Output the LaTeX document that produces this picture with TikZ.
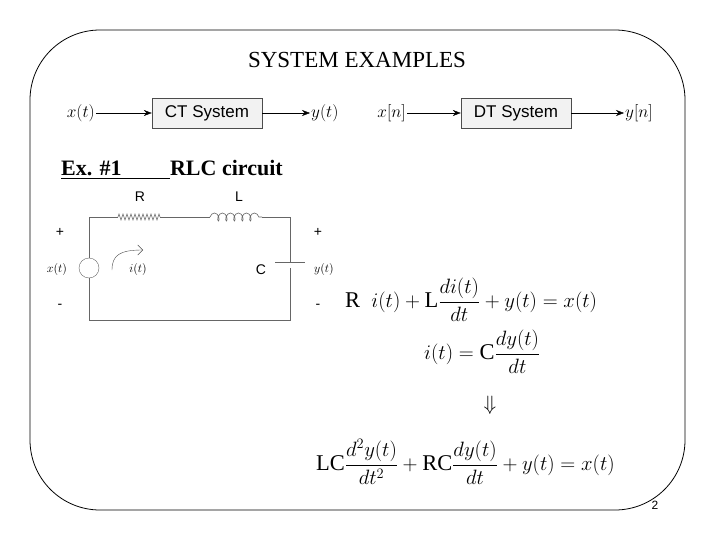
\documentclass[tikz,border=0pt]{standalone}
\usepackage{amsmath}
\usepackage{fontspec}
\setmainfont{Liberation Serif}
\newfontfamily\sansf{Liberation Sans}
\usetikzlibrary{decorations.pathmorphing,arrows.meta}
\begin{document}
\begin{tikzpicture}[x=1pt,y=-1pt,
 blk/.style={draw=black!70,fill=black!5,font=\sansf\fontsize{17}{19}\selectfont,minimum height=30,minimum width=110,inner sep=4},
 sig/.style={font=\fontsize{19}{21}\selectfont,inner sep=1},
 sarr/.style={-{Stealth[length=8,width=6]},thin},
 wire/.style={draw=black!60,line width=0.6},
 lab/.style={font=\sansf\fontsize{14}{16}\selectfont},
 eq/.style={font=\fontsize{22.5}{27}\selectfont,inner sep=0}]
\useasboundingbox (0,0) rectangle (720,540);
\draw[line width=0.8,rounded corners=70] (30,30) rectangle (685,510);
\node[font=\fontsize{23}{25}\selectfont] (title) at (357,60) {SYSTEM EXAMPLES};
% CT
\node[sig,anchor=east] (xt) at (96,113) {$x(t)$};
\node[blk] (ct) at (207,113) {CT System};
\node[sig,anchor=west] (yt) at (310,113) {$y(t)$};
\draw[sarr] (xt) -- (ct);
\draw[sarr] (ct) -- (yt);
% DT
\node[sig,anchor=east] (xn) at (407,113) {$x[n]$};
\node[blk] (dt) at (516,113) {DT System};
\node[sig,anchor=west] (yn) at (624,113) {$y[n]$};
\draw[sarr] (xn) -- (dt);
\draw[sarr] (dt) -- (yn);
% Ex
\node[font=\bfseries\fontsize{22}{25}\selectfont,anchor=west,inner sep=0] (ex) at (61,170) {\underline{Ex. \#1\hspace{2.2em}}RLC circuit};
% circuit
\coordinate (tl) at (89,217); \coordinate (tr) at (290,217);
\coordinate (bl) at (89,320); \coordinate (br) at (290,320);
\node[draw=black!60,circle,minimum size=20,inner sep=0] (src) at (89,268) {};
\coordinate (r1) at (118,217); \coordinate (r2) at (160,217);
\coordinate (l1) at (210,217); \coordinate (l2) at (262,217);
\coordinate (c1) at (290,262); \coordinate (c2) at (290,268);
\draw[wire] (src.north) -- (tl) -- (r1);
\draw[wire,decorate,decoration={zigzag,segment length=4,amplitude=3}] (r1) -- (r2);
\draw[wire] (r2) -- (l1);
\draw[wire,decorate,decoration={coil,aspect=0.6,segment length=8,amplitude=4}] (l1) -- (l2);
\draw[wire] (l2) -- (tr) -- (c1);
\draw[wire] (275,262) -- (305,262);
\draw[wire] (c2) -- (br) -- (bl) -- (src.south);
\node[lab] (Rl) at (140,197) {R};
\node[lab] (Ll) at (239,197) {L};
\node[lab] (Cl) at (261,270) {C};
\node[lab] (p1) at (60,232) {+};
\node[lab] (m1) at (60,306) {-};
\node[lab] (p2) at (318,232) {+};
\node[lab] (m2) at (318,306) {-};
\node[font=\fontsize{13}{15}\selectfont] (xl) at (57,269) {$x(t)$};
\node[font=\fontsize{13}{15}\selectfont] (il) at (138,269) {$i(t)$};
\node[font=\fontsize{13}{15}\selectfont] (yl) at (324,269) {$y(t)$};
\coordinate (ia) at (112,270); \coordinate (ib) at (143,250);
\draw[draw=black!70,-{Straight Barb[length=5]}] (ia) .. controls (112,255) and (120,250) .. (ib);
% equations
\node[eq,anchor=west] (e1) at (345,300) {$\mathrm{R}\ \ i(t)+\mathrm{L}\dfrac{di(t)}{dt}+y(t)=x(t)$};
\node[eq,anchor=west] (e2) at (424,352) {$i(t)=\mathrm{C}\dfrac{dy(t)}{dt}$};
\node[eq] (e3) at (490,405) {$\Downarrow$};
\node[eq,anchor=west] (e4) at (316,462) {$\mathrm{LC}\dfrac{d^2y(t)}{dt^2}+\mathrm{RC}\dfrac{dy(t)}{dt}+y(t)=x(t)$};
\node[font=\sansf\fontsize{12}{14}\selectfont] (pg) at (655,505) {2};
\end{tikzpicture}
\end{document}
